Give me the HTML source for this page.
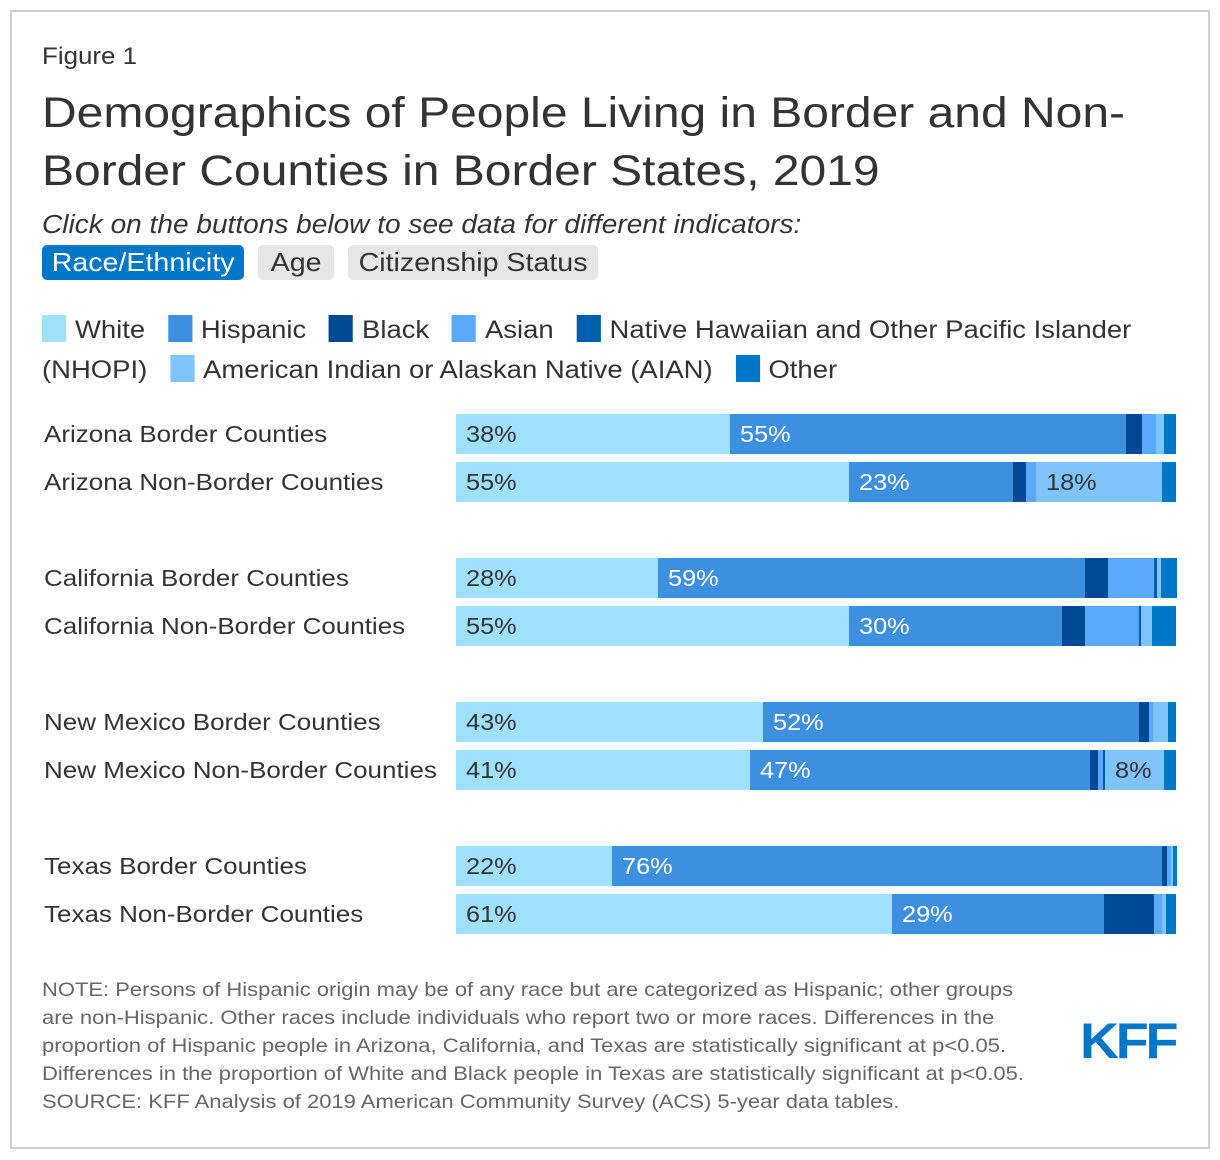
<!DOCTYPE html>
<html><head><meta charset="utf-8"><style>
body{margin:0;width:1220px;height:1160px;background:#fff;font-family:"Liberation Sans",Arial,sans-serif;color:#333;position:relative;overflow:hidden}
.frame{position:absolute;left:10px;top:10px;width:1196px;height:1135px;border:2px solid #d0d0d0}
.abs{position:absolute;white-space:nowrap;transform-origin:left top}
.btn{position:absolute;top:245px;height:35px;border-radius:5px;font-size:26px;line-height:35px;background:#e6e6e6;color:#333;text-align:center;white-space:nowrap}
.btn span{display:inline-block;transform:scaleX(1.1)}
.leg{position:absolute;font-size:25px;line-height:30px;white-space:nowrap;transform:scaleX(1.098);transform-origin:left top}
.sw{display:inline-block;width:22px;height:27px;vertical-align:-4px;margin-right:8px}
.rowlbl{position:absolute;left:44px;font-size:23px;white-space:nowrap;transform:scaleX(1.13);transform-origin:left top}
.note{position:absolute;left:42px;top:976px;font-size:19.5px;line-height:28px;color:#666;white-space:nowrap;transform:scaleX(1.127);transform-origin:left top}
</style></head><body>
<div class="frame"></div>
<div class="abs" style="left:42px;top:43px;font-size:24px;transform:scaleX(1.08)">Figure 1</div>
<div class="abs" style="left:42px;top:84px;font-size:43px;line-height:58px;color:#333;transform:scaleX(1.116)">Demographics of People Living in Border and Non-<br>Border Counties in Border States, 2019</div>
<div class="abs" style="left:42px;top:211px;font-size:25.5px;font-style:italic;transform:scaleX(1.1)">Click on the buttons below to see data for different indicators:</div>
<div class="btn" style="left:42px;width:202px;background:#0077c8;color:#fff"><span>Race/Ethnicity</span></div>
<div class="btn" style="left:258px;width:76px"><span>Age</span></div>
<div class="btn" style="left:348px;width:250px"><span>Citizenship Status</span></div>
<div class="leg" style="left:42px;top:315px">
<span><span class="sw" style="background:#9fe1fc"></span>White</span>&nbsp;&nbsp;
<span><span class="sw" style="background:#3d8fe0"></span>Hispanic</span>&nbsp;&nbsp;
<span><span class="sw" style="background:#004a93"></span>Black</span>&nbsp;&nbsp;
<span><span class="sw" style="background:#5aa9fd"></span>Asian</span>&nbsp;&nbsp;
<span><span class="sw" style="background:#005eae"></span>Native Hawaiian and Other Pacific Islander</span></div>
<div class="leg" style="left:42px;top:355px">(NHOPI)&nbsp;&nbsp;
<span><span class="sw" style="background:#7fc4ff"></span>American Indian or Alaskan Native (AIAN)</span>&nbsp;&nbsp;
<span><span class="sw" style="background:#0077c8"></span>Other</span></div>
<div id="chart"></div>
<div class="note">NOTE: Persons of Hispanic origin may be of any race but are categorized as Hispanic; other groups<br>are non-Hispanic. Other races include individuals who report two or more races. Differences in the<br>proportion of Hispanic people in Arizona, California, and Texas are statistically significant at p&lt;0.05.<br>Differences in the proportion of White and Black people in Texas are statistically significant at p&lt;0.05.<br>SOURCE: KFF Analysis of 2019 American Community Survey (ACS) 5-year data tables.</div>
<div class="abs" style="left:1080px;top:1012px;font-size:50px;font-weight:bold;color:#0077c8;letter-spacing:-3px;transform:scaleX(1.08)">KFF</div>
<script>
const categories=["Arizona Border Counties","Arizona Non-Border Counties","California Border Counties","California Non-Border Counties","New Mexico Border Counties","New Mexico Non-Border Counties","Texas Border Counties","Texas Non-Border Counties"];
const seriesNames=["White","Hispanic","Black","Asian","NHOPI","AIAN","Other"];
const white=[38.1,54.6,28.1,54.6,42.6,40.8,21.7,60.6];
const hispanic=[55.0,22.8,59.2,29.6,52.2,47.2,76.4,29.4];
const black=[2.2,1.7,3.3,3.1,1.4,1.1,0.6,6.9];
const asian=[1.9,1.4,6.4,7.5,0.6,0.8,0.6,1.1];
const nhopi=[0,0,0.3,0.3,0,0.3,0,0];
const aian=[1.1,17.6,0.6,1.6,2.1,8.1,0.3,0.6];
const other=[1.7,1.9,2.2,3.3,1.1,1.7,0.6,1.4];
const series=[white,hispanic,black,asian,nhopi,aian,other];
const colors=["#9fe1fc","#3d8fe0","#004a93","#5aa9fd","#005eae","#7fc4ff","#0077c8"];
const textColors=["#333","#fff","#fff","#333","#fff","#333","#fff"];
const X0=456,W=720;
const x=v=>v/100*W;
const rowY=i=>414+Math.floor(i/2)*144+(i%2)*48;
const chart=document.getElementById('chart');
categories.forEach((c,i)=>{
  const y=rowY(i);
  const l=document.createElement('div');
  l.className='rowlbl';l.style.top=(y+7)+'px';l.textContent=c;
  
  
  chart.appendChild(l);
  let acc=0;
  series.forEach((s,k)=>{
    const v=s[i];
    const b=document.createElement('div');
    b.style.cssText=`position:absolute;left:${X0+x(acc)}px;top:${y}px;width:${x(v)}px;height:40px;background:${colors[k]}`;
    
    
    if(v>=8){
      const t=document.createElement('span');
      t.textContent=Math.round(v)+'%';
      t.style.cssText=`position:absolute;left:10px;top:7px;font-size:23px;color:${textColors[k]};white-space:nowrap;transform:scaleX(1.1);transform-origin:left top`;
      
      
      b.appendChild(t);
    }
    chart.appendChild(b);
    acc+=v;
  });
});
</script>
</body></html>
